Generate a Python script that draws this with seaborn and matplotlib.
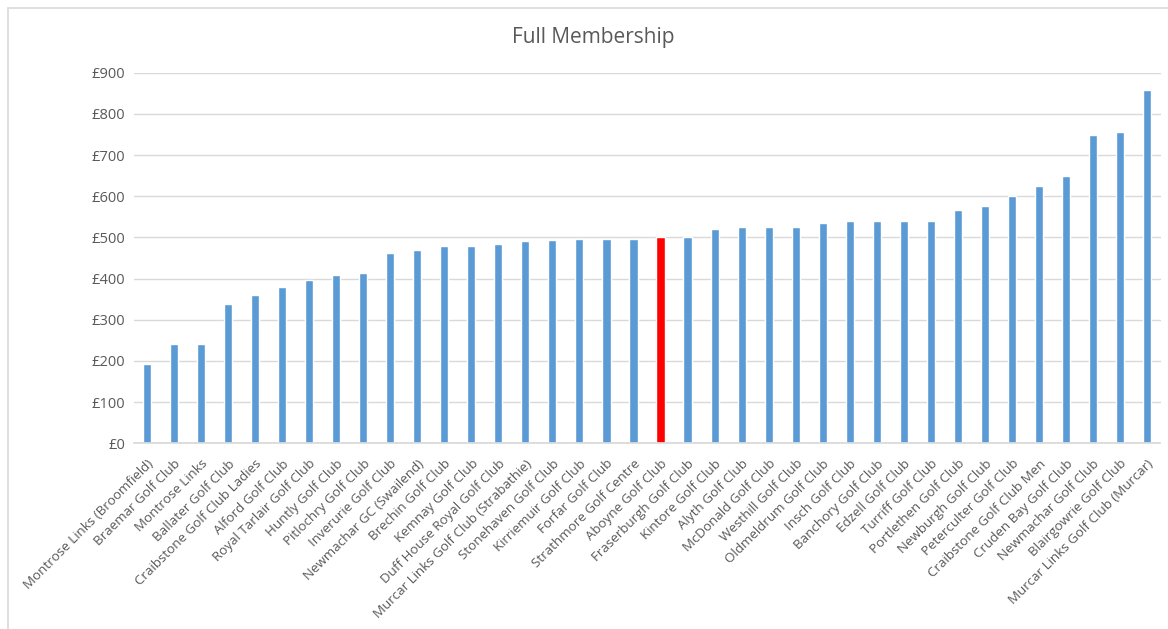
import matplotlib
matplotlib.use("Agg")
import matplotlib.pyplot as plt
import seaborn as sns
import pandas as pd
from matplotlib.patches import Rectangle

clubs = [
    "Montrose Links (Broomfield)", "Braemar Golf Club", "Montrose Links",
    "Ballater Golf Club", "Craibstone Golf Club Ladies", "Alford Golf Club",
    "Royal Tarlair Golf Club", "Huntly Golf Club", "Pitlochry Golf Club",
    "Inverurie Golf Club", "Newmachar GC (Swailend)", "Brechin Golf Club",
    "Kemnay Golf Club", "Duff House Royal Golf Club",
    "Murcar Links Golf Club (Strabathie)", "Stonehaven Golf Club",
    "Kirriemuir Golf Club", "Forfar Golf Club", "Strathmore Golf Centre",
    "Aboyne Golf Club", "Fraserburgh Golf Club", "Kintore Golf Club",
    "Alyth Golf Club", "McDonald Golf Club", "Westhill Golf Club",
    "Oldmeldrum Golf Club", "Insch Golf Club", "Banchory Golf Club",
    "Edzell Golf Club", "Turriff Golf Club", "Portlethen Golf Club",
    "Newburgh Golf Club", "Peterculter Golf Club", "Craibstone Golf Club Men",
    "Cruden Bay Golf Club", "Newmachar Golf Club", "Blairgowrie Golf Club",
    "Murcar Links Golf Club (Murcar)",
]
fees = [192, 240, 240, 338, 360, 379, 396, 408, 414, 462, 469, 478, 478, 485,
        491, 494, 497, 497, 497, 500, 500, 520, 526, 526, 526, 536, 539, 539,
        539, 539, 567, 577, 600, 625, 650, 749, 756, 858]
highlight = "Aboyne Golf Club"
yticks = [0, 100, 200, 300, 400, 500, 600, 700, 800, 900]

BLUE = "#5b9bd5"
RED = "#ff0000"

sns.set_theme(style="white")
plt.rcParams['font.family'] = ['Open Sans', 'DejaVu Sans']

df = pd.DataFrame({"club": clubs, "fee": fees})
palette = {c: (RED if c == highlight else BLUE) for c in clubs}

fig = plt.figure(figsize=(11.68, 6.29), dpi=100)
ax = fig.add_axes([133.5 / 1168, 1 - 443.3 / 629, (1160.5 - 133.5) / 1168, (443.3 - 72.7) / 629])

sns.barplot(data=df, x="club", y="fee", hue="club", palette=palette,
            legend=False, width=0.3, ax=ax, saturation=1)

ax.set_ylim(0, 900)
ax.set_xlim(-0.5, len(clubs) - 0.5)
ax.set_yticks(yticks)
ax.set_yticklabels([f"£{v}" for v in yticks], fontsize=10.5, color="#595959")
ax.yaxis.grid(True, color="#d9d9d9", linewidth=1)
ax.set_axisbelow(True)
for s in ["top", "right", "left"]:
    ax.spines[s].set_visible(False)
ax.spines["bottom"].set_color("#d9d9d9")
ax.tick_params(axis="both", length=0)
ax.tick_params(axis="y", pad=6)
ax.set_xlabel("")
ax.set_ylabel("")
ax.set_xticks(range(len(clubs)))
ax.set_xticklabels(clubs, rotation=45, ha="right", rotation_mode="anchor",
                   fontsize=9.6, color="#595959")
ax.tick_params(axis="x", pad=10)

fig.text(593 / 1168, 1 - 37 / 629, "Full Membership", ha="center", va="center",
         fontsize=15, color="#595959")

fig.patches.append(Rectangle((8 / 1168, -0.01), 1.0, 1 - 8 / 629 + 0.01,
                             transform=fig.transFigure, fill=False,
                             edgecolor="#d9d9d9", linewidth=1.2))

fig.savefig("out.png", dpi=100)
